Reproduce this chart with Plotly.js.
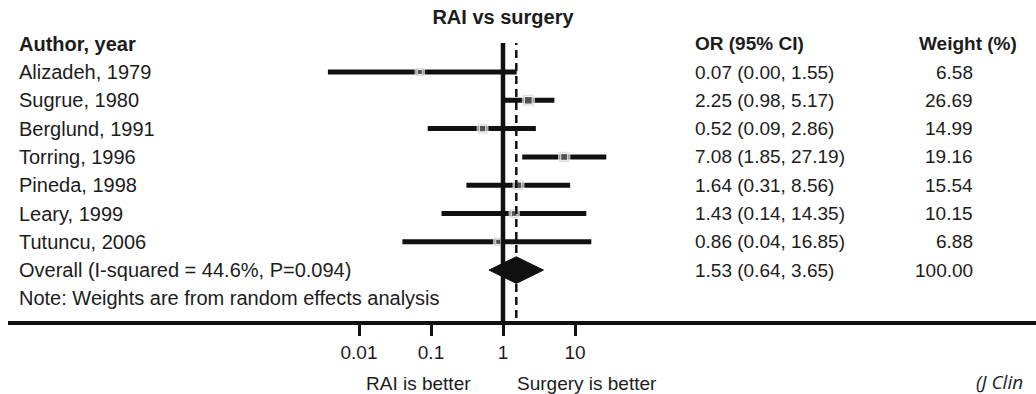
<!DOCTYPE html>
<html>
<head>
<meta charset="utf-8">
<script src="https://cdn.plot.ly/plotly-3.0.1.min.js"></script>
<style>
  html, body { margin: 0; padding: 0; background: #fff; }
  #chart { width: 1036px; height: 394px; }
</style>
</head>
<body>
<div id="chart"></div>
<script>
// Study-level odds ratios (RAI vs surgery) with 95% CI and random-effects weights
const studies = ['Alizadeh, 1979', 'Sugrue, 1980', 'Berglund, 1991', 'Torring, 1996',
                 'Pineda, 1998', 'Leary, 1999', 'Tutuncu, 2006'];
const oddsRatio = [0.07, 2.25, 0.52, 7.08, 1.64, 1.43, 0.86];
const ciLow = [0.0037, 0.98, 0.09, 1.85, 0.31, 0.14, 0.04];
const ciHigh = [1.55, 5.17, 2.86, 27.19, 8.56, 14.35, 16.85];
const weights = [6.58, 26.69, 14.99, 19.16, 15.54, 10.15, 6.88];

// Pooled estimate
const overallLabel = 'Overall (I-squared = 44.6%, P=0.094)';
const overallOR = 1.53;
const overallLow = 0.64;
const overallHigh = 3.65;
const overallWeight = 100.00;
const noteText = 'Note: Weights are from random effects analysis';

// Log axis ticks
const tickVals = [0.01, 0.1, 1, 10];
const tickText = ['0.01', '0.1', '1', '10'];
const nullOR = 1;

// ---- layout helpers ----
const W = 1036, H = 394;
const FONT = 'Liberation Sans, Arial, sans-serif';
const TXT = '#1c1c1c';
const pxPerDecade = 72;
const nullPx = 503;
const axisLeftPx = 8;
const rowTopPx = 72, rowStep = 28.3;
const axisPx = 323;

const xRange = [(axisLeftPx - nullPx) / pxPerDecade, (W - nullPx) / pxPerDecade];
const yRange = [(H - rowTopPx) / rowStep, -rowTopPx / rowStep];
const paperY = px => 1 - px / H;
const paperX = px => px / W;

const rows = studies.map((_, i) => i);
const overallRow = studies.length;
const fmt = v => v.toFixed(2);

// CI segments
const ciX = [], ciY = [];
rows.forEach(i => { ciX.push(ciLow[i], ciHigh[i], null); ciY.push(i, i, null); });

const traces = [
  { type: 'scatter', mode: 'lines', x: ciX, y: ciY,
    line: { color: '#111', width: 5 }, hoverinfo: 'skip' },
  // weight boxes
  { type: 'scatter', mode: 'markers', x: oddsRatio, y: rows,
    marker: { symbol: 'square', color: '#d4d4d4', size: weights.map(w => 7 + Math.sqrt(w)) },
    hoverinfo: 'skip' },
  { type: 'scatter', mode: 'markers', x: oddsRatio, y: rows,
    marker: { symbol: 'square', color: '#333', size: weights.map(w => 2.5 + Math.sqrt(w)) },
    hoverinfo: 'skip' },
  // pooled diamond
  { type: 'scatter', mode: 'lines',
    x: [overallLow, overallOR, overallHigh, overallOR, overallLow],
    y: [overallRow, overallRow - 0.47, overallRow, overallRow + 0.47, overallRow],
    fill: 'toself', fillcolor: '#111', line: { color: '#111', width: 1 }, hoverinfo: 'skip' }
];

const ann = [];
const addText = (text, x, y, anchor, size, opts = {}) => ann.push(Object.assign({
  text, x, y, xref: 'paper', yref: 'y', xanchor: anchor, yanchor: 'middle',
  showarrow: false, font: { family: FONT, size, color: TXT }
}, opts));

// headers
const bold = { family: FONT, size: 19, color: TXT, weight: 'bold' };
addText('Author, year', paperX(17), -1, 'left', 19, { font: Object.assign({}, bold, { size: 20 }) });
addText('OR (95% CI)', paperX(693), -1, 'left', 19, { font: bold });
addText('Weight (%)', paperX(1019), -1, 'right', 19, { font: bold });

rows.forEach(i => {
  addText(studies[i], paperX(17), i, 'left', 20);
  addText(`${fmt(oddsRatio[i])} (${fmt(ciLow[i])}, ${fmt(ciHigh[i])})`, paperX(693), i, 'left', 19);
  addText(fmt(weights[i]), paperX(975), i, 'right', 19);
});
addText(overallLabel, paperX(17), overallRow, 'left', 20);
addText(`${fmt(overallOR)} (${fmt(overallLow)}, ${fmt(overallHigh)})`, paperX(693), overallRow, 'left', 19);
addText(fmt(overallWeight), paperX(975), overallRow, 'right', 19);
addText(noteText, paperX(17), overallRow + 1, 'left', 20);

// direction labels under the axis
ann.push({ text: 'RAI is better', xref: 'paper', yref: 'paper', x: paperX(473), y: paperY(383),
  xanchor: 'right', yanchor: 'middle', showarrow: false, font: { family: FONT, size: 19, color: TXT } });
ann.push({ text: 'Surgery is better', xref: 'paper', yref: 'paper', x: paperX(515), y: paperY(383),
  xanchor: 'left', yanchor: 'middle', showarrow: false, font: { family: FONT, size: 19, color: TXT } });
// source note
ann.push({ text: '(J Clin', xref: 'paper', yref: 'paper', x: paperX(974), y: paperY(382),
  xanchor: 'left', yanchor: 'middle', showarrow: false,
  font: { family: 'Open Sans, sans-serif', size: 19, color: '#1a1a2e', style: 'italic' } });

const layout = {
  width: W, height: H,
  margin: { l: 0, r: 0, t: 0, b: 0 },
  paper_bgcolor: '#fff', plot_bgcolor: 'rgba(0,0,0,0)',
  showlegend: false,
  title: { text: 'RAI vs surgery', x: paperX(nullPx), xanchor: 'center', xref: 'paper',
           y: paperY(17), yanchor: 'middle', yref: 'paper',
           font: { family: FONT, size: 20, color: TXT, weight: 'bold' } },
  xaxis: {
    type: 'log', range: xRange, domain: [paperX(axisLeftPx), 1],
    anchor: 'free', position: paperY(axisPx),
    showgrid: false, zeroline: false,
    showline: true, linewidth: 4, linecolor: '#111',
    ticks: 'outside', ticklen: 11, tickwidth: 3, tickcolor: '#111',
    tickmode: 'array', tickvals: tickVals, ticktext: tickText,
    tickfont: { family: FONT, size: 19, color: TXT }
  },
  yaxis: { range: yRange, visible: false, domain: [0, 1] },
  shapes: [
    { type: 'line', xref: 'x', yref: 'paper', x0: nullOR, x1: nullOR,
      y0: paperY(axisPx), y1: paperY(43), line: { color: '#111', width: 4.5 } },
    { type: 'line', xref: 'x', yref: 'paper', x0: overallOR, x1: overallOR,
      y0: paperY(318), y1: paperY(43), line: { color: '#111', width: 2.5, dash: '8px,5px' } }
  ],
  annotations: ann
};

Plotly.newPlot('chart', traces, layout, { staticPlot: true, displayModeBar: false });
</script>
</body>
</html>
